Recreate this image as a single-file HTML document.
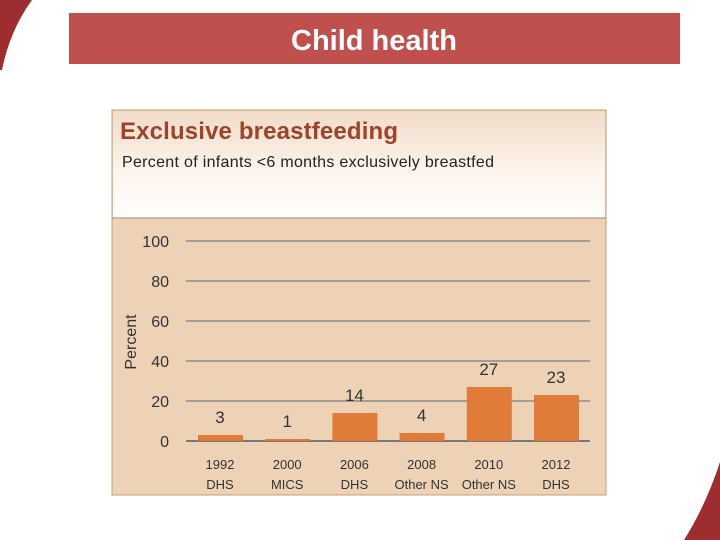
<!DOCTYPE html>
<html><head><meta charset="utf-8"><style>
body{margin:0;width:720px;height:540px;background:#fff;position:relative;overflow:hidden;font-family:"Liberation Sans",sans-serif}
</style></head><body>
<svg width="720" height="540" style="position:absolute;left:0;top:0">
<defs><linearGradient id="hg" x1="0" y1="0" x2="0" y2="1"><stop offset="0" stop-color="#f1dcc8"/><stop offset="0.6" stop-color="#fdf6ef"/><stop offset="1" stop-color="#fffdfb"/></linearGradient></defs>
<path d="M0,0 L32,0 Q10,30 2,70 L0,70 Z" fill="#9e2d2f"/>
<path d="M720,462 Q706,505 684,540 L720,540 Z" fill="#9e2d2f"/>
<rect x="69" y="13" width="611" height="51" fill="#c0504d"/>
<text x="374" y="50" text-anchor="middle" font-size="29" font-weight="bold" fill="#fff">Child health</text>
<rect x="112" y="110" width="494" height="385" fill="#edd2b6" stroke="#c89c78"/>
<rect x="113" y="111" width="492" height="107" fill="url(#hg)"/>
<line x1="112" y1="218" x2="606" y2="218" stroke="#b9835e"/>
<text x="120" y="139" font-size="24" font-weight="bold" fill="#a0432a" textLength="278">Exclusive breastfeeding</text>
<text x="122" y="167" font-size="16" fill="#222" textLength="372">Percent of infants &lt;6 months exclusively breastfed</text>
<text transform="translate(136,342) rotate(-90)" text-anchor="middle" font-size="16" fill="#333">Percent</text>
<g id="g"></g>
</svg>
<script>
const cats1=["1992","2000","2006","2008","2010","2012"];
const cats2=["DHS","MICS","DHS","Other NS","Other NS","DHS"];
const vals=[3,1,14,4,27,23];
const ticks=[0,20,40,60,80,100];
const ns="http://www.w3.org/2000/svg",g=document.getElementById('g');
const y=v=>441-v*2, x=i=>220+i*67.2;
function mk(t,a,txt){const e=document.createElementNS(ns,t);for(const k in a)e.setAttribute(k,a[k]);if(txt!=null)e.textContent=txt;g.appendChild(e);return e;}
ticks.forEach(t=>{
 const l=mk('line',{x1:186,x2:590,y1:y(t),y2:y(t),stroke:t?'#8c8c8c':'#777','stroke-width':t?1.5:2});
 
 
 const tx=mk('text',{x:169,y:y(t)+6,'text-anchor':'end','font-size':16,fill:'#333'},t);
 
 
});
vals.forEach((v,i)=>{
 const b=mk('rect',{x:x(i)-22,y:y(v),width:45,height:v*2,fill:'#e07b39'});
 
 
 const lb=mk('text',{x:x(i),y:y(v)-12,'text-anchor':'middle','font-size':17,fill:'#333'},v);
 
 
 const c1=mk('text',{x:x(i),y:469,'text-anchor':'middle','font-size':13,fill:'#333'},cats1[i]);
 
 
 const c2=mk('text',{x:x(i),y:489,'text-anchor':'middle','font-size':13,fill:'#333'},cats2[i]);
 
 
});
</script>
</body></html>
